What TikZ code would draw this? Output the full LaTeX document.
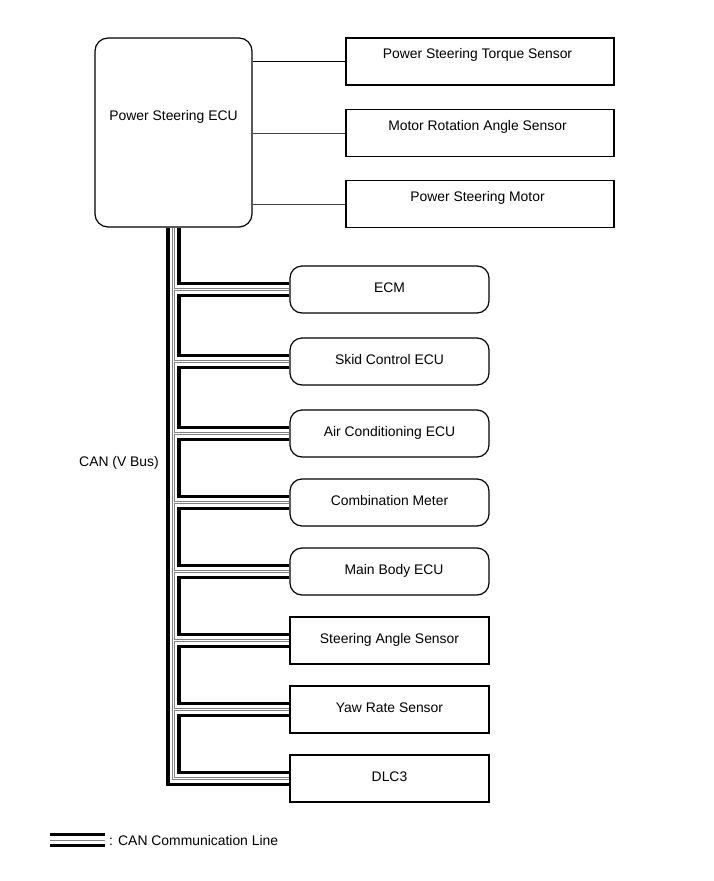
\documentclass[tikz,border=0pt]{standalone}
\usepackage{fontspec}
\setmainfont{Liberation Sans}
\usetikzlibrary{calc}
\begin{document}
\begin{tikzpicture}[x=1pt,y=-1pt,
  txt/.style={font=\fontsize{13.9}{16}\selectfont, inner sep=0pt},
  sqbox/.style={draw, line width=1.2pt, minimum width=268pt, minimum height=47pt, inner sep=0pt},
  rbox/.style={draw, line width=1.2pt, rounded corners=12pt, minimum width=199pt, minimum height=47pt, inner sep=0pt, text height=10pt, text depth=4pt, font=\fontsize{13.9}{16}\selectfont},
  lbox/.style={draw, line width=1.2pt, minimum width=199pt, minimum height=47pt, inner sep=0pt, text height=10pt, text depth=4pt, font=\fontsize{13.9}{16}\selectfont},
  wire/.style={line width=0.9pt},
  canb/.style={line width=3.5pt, line join=miter},
  cang/.style={line width=1pt, black!50, line join=miter}]
\useasboundingbox (0,0) rectangle (713,881);

% main ECU
\node[draw, line width=1.2pt, rounded corners=13pt, minimum width=157pt, minimum height=189pt, inner sep=0pt] (ecu) at (173.5,132.5) {};
\node[txt] (ecut) at (173.5,116.5) {Power Steering ECU};

% right boxes
\node[sqbox] (t1) at (480,61.5) {};
\node[txt] (t1t) at (477.5,55) {Power Steering Torque Sensor};
\node[sqbox] (t2) at (480,133) {};
\node[txt] (t2t) at (477.5,126.5) {Motor Rotation Angle Sensor};
\node[sqbox] (t3) at (480,204) {};
\node[txt] (t3t) at (477.5,198) {Power Steering Motor};

\draw[wire] (ecu.east |- t1.west) -- (t1.west);
\draw[wire, black!75] (ecu.east |- t2.west) -- (t2.west);
\draw[wire, black!75] (ecu.east |- t3.west) -- (t3.west);

% bus nodes
\node[rbox] (n1) at (389.5,289.5) {ECM};
\node[rbox] (n2) at (389.5,361.5) {Skid Control ECU};
\node[rbox] (n3) at (389.5,433.5) {Air Conditioning ECU};
\node[rbox] (n4) at (389.5,502.5) {Combination Meter};
\node[rbox] (n5) at (389.5,571.5) {\hspace{9pt}Main Body ECU};
\node[lbox] (n6) at (389.5,640.5) {Steering Angle Sensor};
\node[lbox] (n7) at (389.5,709.5) {Yaw Rate Sensor};
\node[lbox] (n8) at (389.5,778.5) {DLC3};

\foreach \i in {1,...,8}{
  \coordinate (u\i) at ($(n\i.west)+(0,-6)$);
  \coordinate (d\i) at ($(n\i.west)+(0,6)$);
  \coordinate (gu\i) at ($(n\i.west)+(0,-1.3)$);
  \coordinate (gd\i) at ($(n\i.west)+(0,1.3)$);
}
\coordinate (ob) at (168,0);
\coordinate (og) at (172,0);
\coordinate (ig) at (174.6,0);
\coordinate (ib) at (179.2,0);

% grey conductors
\draw[cang] (og |- ecu.south) |- (gd8);
\draw[cang] (ig |- ecu.south) |- (gu1);
\foreach \i [evaluate=\i as \j using int(\i+1)] in {1,...,7}{
  \draw[cang] (gd\i) -| (ig |- gu\j) -- (gu\j);
}
% black conductors
\draw[canb] (ob |- ecu.south) |- (d8);
\draw[canb] (ib |- ecu.south) |- (u1);
\foreach \i [evaluate=\i as \j using int(\i+1)] in {1,...,7}{
  \draw[canb] (d\i) -| (ib |- u\j) -- (u\j);
}

\node[txt] (can) at (119,463) {CAN (V Bus)};

% legend
\coordinate (la) at (50,834.5);
\coordinate (lb) at (105,834.5);
\draw[line width=3.5pt] (la) -- (lb);
\draw[line width=1pt, black!50] ($(la)+(0,6)$) -- ($(lb)+(0,6)$);
\draw[line width=3pt] ($(la)+(0,10.5)$) -- ($(lb)+(0,10.5)$);
\node[txt, anchor=west] (legt) at (109,841) {: CAN Communication Line};
\end{tikzpicture}
\end{document}
